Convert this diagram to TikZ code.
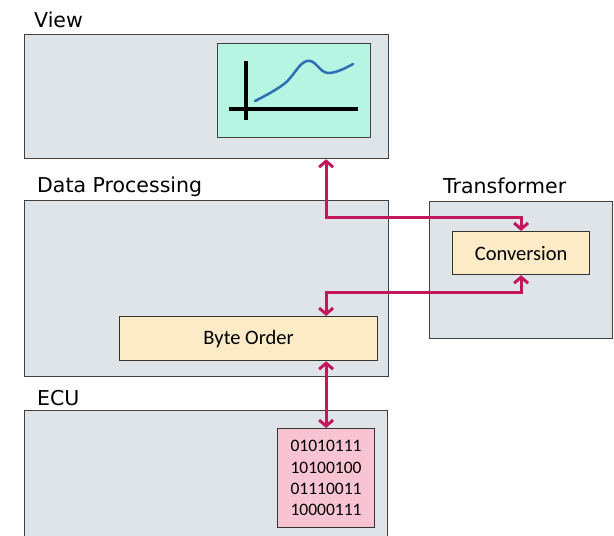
\documentclass[tikz,border=0pt]{standalone}
\usepackage{fontspec}
\setmainfont{DejaVu Sans}
\newfontfamily\boxfont{Carlito}
\usetikzlibrary{arrows.meta, positioning}
\definecolor{panelgray}{HTML}{DFE4E8}
\definecolor{screen}{HTML}{B5F5E2}
\definecolor{cream}{HTML}{FDEBC8}
\definecolor{bitpink}{HTML}{F8C4D4}
\definecolor{crimson}{HTML}{C2185B}
\definecolor{curveblue}{HTML}{2F6DB5}

\begin{document}
\begin{tikzpicture}[x=1pt, y=-1pt, inner sep=0pt,
	panel/.style={draw=black!75, fill=panelgray, line width=1.2pt, anchor=north west},
	block/.style={draw=black!80, fill=cream, line width=1.2pt, anchor=north west, font=\boxfont\fontsize{20.5}{24}\selectfont},
	title/.style={anchor=base west, font=\fontsize{20.5}{24}\selectfont},
	link/.style={draw=crimson, line width=3pt, {Straight Barb[length=6pt,width=14pt]}-{Straight Barb[length=6pt,width=14pt]}}]

	\clip (0,0) rectangle (614,536);

	% panels
	\node[panel, minimum width=364pt, minimum height=124pt] (view) at (24,34) {};
	\node[panel, minimum width=364pt, minimum height=176pt] (dataproc) at (24,200) {};
	\node[panel, minimum width=183pt, minimum height=137pt] (transformer) at (429,201) {};
	\node[panel, minimum width=363pt, minimum height=140pt] (ecu) at (24,410) {};

	\node[title] (viewlabel) at (34,27) {View};
	\node[title] (dataproclabel) at (37,192) {Data Processing};
	\node[title] (transformerlabel) at (443,193) {Transformer};
	\node[title] (eculabel) at (37,405) {ECU};

	% inner boxes
	\node[panel, fill=screen, minimum width=153pt, minimum height=94pt] (graph) at (217,43) {};
	\node[block, minimum width=137pt, minimum height=43pt] (conversion) at (452,231) {Conversion};
	\node[block, minimum width=258pt, minimum height=44pt] (byteorder) at (119,316) {Byte Order};
	\node[block, fill=bitpink, minimum width=97pt, minimum height=99pt, align=center,
		font=\boxfont\fontsize{17.5}{21.3}\selectfont] (binary) at (277,428)
		{01010111\\10100100\\01110011\\10000111};

	% chart
	\draw[line width=3.2pt] (229,109) -- (358,109);
	\draw[line width=3.2pt] (246,61) -- (246,120);
	\draw[curveblue, line width=2.5pt, line cap=round] plot[smooth, tension=0.7]
		coordinates {(255,101) (284,84) (307,61) (328,73) (353,64)};

	% connections
	\path[link] (view.south -| binary.north) -- ++(0,58) -| (conversion.north);
	\path[link] (byteorder.north -| binary.north) -- ++(0,-24) -| (conversion.south);
	\path[link] (byteorder.south -| binary.north) -- (binary.north);

\end{tikzpicture}
\end{document}
